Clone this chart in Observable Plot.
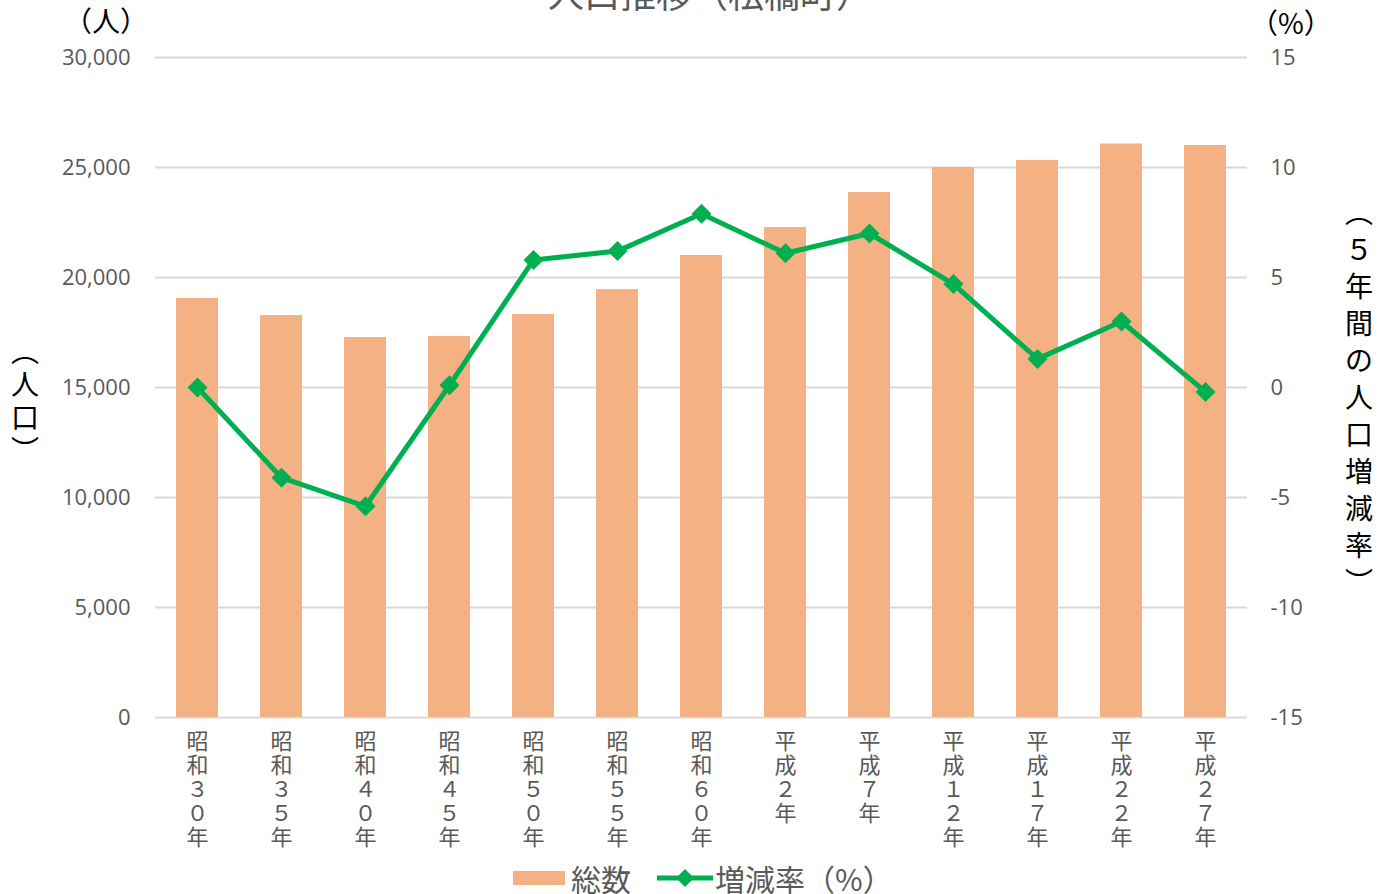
<!DOCTYPE html>
<html><head><meta charset="utf-8">
<script src="https://cdn.jsdelivr.net/npm/d3@7"></script>
<script src="https://cdn.jsdelivr.net/npm/@observablehq/plot@0.6"></script>
<style>
body{margin:0;background:#fff;font-family:'Open Sans','Noto Sans CJK JP',sans-serif;}
#wrap{position:relative;width:1392px;height:894px;overflow:hidden;}
.abs{position:absolute;white-space:nowrap;}
.stack{position:absolute;display:flex;flex-direction:column;align-items:center;}
.stack span{display:flex;align-items:center;justify-content:center;}
</style></head>
<body><div id="wrap"></div>
<script>
const years = ["昭和３０年","昭和３５年","昭和４０年","昭和４５年","昭和５０年","昭和５５年","昭和６０年","平成２年","平成７年","平成１２年","平成１７年","平成２２年","平成２７年"];
const population = [19050,18270,17270,17320,18320,19450,21000,22270,23860,25000,25320,26070,26000];
const rate = [0.0,-4.1,-5.4,0.1,5.8,6.2,7.9,6.1,7.0,4.7,1.3,3.0,-0.2];
const leftTicks = [0,5000,10000,15000,20000,25000,30000];
const rightTicks = [-15,-10,-5,0,5,10,15];

// map the right-axis rate (-15..15) onto the left population domain (0..30000)
const rateToY = r => (r + 15) * 1000;

const bars = years.map((y,i)=>({year:y, pop:population[i]}));
const pts = years.map((y,i)=>({year:y, r:rateToY(rate[i])}));

const chart = Plot.plot({
  width:1392, height:894,
  marginTop:57, marginBottom:177, marginLeft:155, marginRight:145,
  style:{fontFamily:"'Open Sans','Noto Sans CJK JP',sans-serif", color:"#595959", background:"transparent", overflow:"visible"},
  x:{domain:years, paddingInner:0.5, paddingOuter:0.25, label:null},
  y:{domain:[0,30000], label:null},
  marks:[
    Plot.ruleY(leftTicks,{stroke:"#d9d9d9", strokeWidth:2}),
    Plot.barY(bars,{x:"year", y:"pop", fill:"#f4b183"}),
    Plot.line(pts,{x:"year", y:"r", stroke:"#00b050", strokeWidth:5}),
    Plot.dot(pts,{x:"year", y:"r", symbol:"diamond2", r:9, fill:"#00b050", stroke:"none"}),
    Plot.axisY({ticks:leftTicks, tickSize:0, tickPadding:25, tickFormat:d3.format(","), fontSize:22, anchor:"left", label:null}),
    Plot.axisY({ticks:rightTicks.map(rateToY), tickSize:0, tickPadding:23, tickFormat:d=>String(Math.round(d/1000-15)), fontSize:22, anchor:"right", label:null}),
    Plot.axisX({tickSize:0, tickPadding:14, fontSize:22, lineHeight:1.1, tickFormat:d=>[...d].join("\n"), label:null, fontFamily:"'Noto Sans CJK JP',sans-serif"})
  ]
});
const wrap = document.getElementById("wrap");
wrap.appendChild(chart);
chart.style.position="absolute"; chart.style.left="0"; chart.style.top="0";

function addText(txt, css){
  const d=document.createElement("div"); d.className="abs"; d.textContent=txt;
  Object.assign(d.style, css); wrap.appendChild(d); return d;
}
function addStack(chars, cx, top, pitch, size){
  const d=document.createElement("div"); d.className="stack";
  Object.assign(d.style,{left:(cx-25)+"px",width:"50px",top:top+"px",fontSize:size+"px",color:"#000",fontFamily:cjk});
  for(const c of chars){const s=document.createElement("span"); s.textContent=c; s.style.height=pitch+"px"; s.style.lineHeight=pitch+"px"; d.appendChild(s);}
  wrap.appendChild(d);
}
const cjk="'Noto Sans CJK JP',sans-serif";
addText("人口推移（松橋町）",{left:"14px",width:"1392px",textAlign:"center",top:"-34px",fontSize:"36px",color:"#595959",fontFamily:cjk});
addText("（人）",{left:"64px",top:"0px",fontSize:"28px",color:"#000",fontFamily:cjk});
addText("（%）",{left:"1250px",top:"2px",fontSize:"28px",color:"#000",fontFamily:cjk});
addStack(["︵","人","口","︶"], 25, 334, 33, 28);
addStack(["︵","５","年","間","の","人","口","増","減","率","︶"], 1359, 193, 37, 28);

// legend
const lg=document.createElement("div");
lg.className="abs";
Object.assign(lg.style,{left:"513px",top:"858px",display:"flex",alignItems:"center",fontSize:"30px",color:"#595959",fontFamily:cjk,lineHeight:"40px"});
lg.innerHTML=`<span style="display:inline-block;width:52px;height:14px;background:#f4b183;margin-right:6px"></span><span>総数</span>
<svg width="60" height="24" style="margin-left:24px"><line x1="2" y1="12" x2="58" y2="12" stroke="#00b050" stroke-width="5"/><path d="M30 3 L39 12 L30 21 L21 12Z" fill="#00b050"/></svg><span>増減率（%）</span>`;
wrap.appendChild(lg);
</script></body></html>
